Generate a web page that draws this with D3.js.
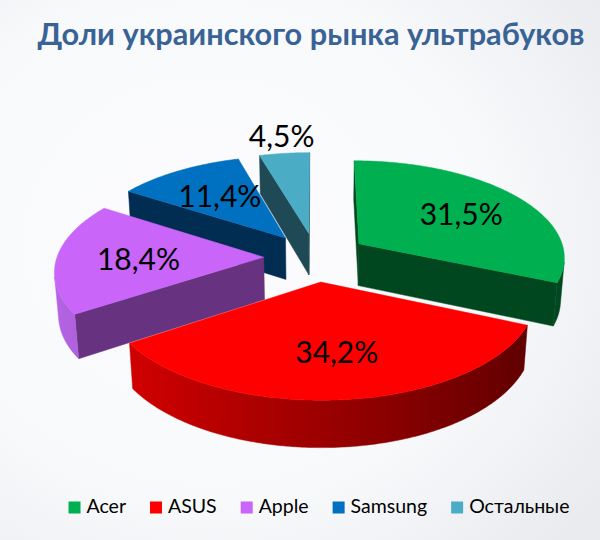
<!DOCTYPE html>
<html><head><meta charset="utf-8">
<script src="https://cdn.jsdelivr.net/npm/d3@7/dist/d3.min.js"></script>
<style>html,body{margin:0;padding:0;background:#fff;}svg{display:block;}</style>
</head><body>
<script>
// ---- data ----
const title = "Доли украинского рынка ультрабуков";
const categories = ["Acer", "ASUS", "Apple", "Samsung", "Остальные"];
const shares = [31.5, 34.2, 18.4, 11.4, 4.5];
const valueLabels = ["31,5%", "34,2%", "18,4%", "11,4%", "4,5%"];
const topColors = ["#00B050", "#FF0000", "#C965F8", "#0070C0", "#4BACC6"];
const radialColors = ["#00471F", "#8A0000", "#673380", "#022D52", "#1F4A55"];
const sideLight = ["#00582A", "#DC0000", "#B565E6", "#0A4F8A", "#3A8799"];
const sideDark = ["#00471F", "#5A0000", "#673380", "#022D52", "#1F4A55"];

// ---- layout ----
const W = 600, H = 540;
const cx = 316, cy = 257, D = 7.08, f = 1463, phi = 27.84 * Math.PI / 180;
const thick = 0.235, explode = 0.253;
const sp = Math.sin(phi), cp = Math.cos(phi);
const cam = [0, D * sp, D * cp];

function proj(p) {
  const [X, Y, Z] = p;
  const dz = Y * sp + Z * cp;
  const yv = Y * cp - Z * sp;
  const d = D - dz;
  return [cx + f * X / d, cy - f * yv / d];
}
function visible(n, p) {
  return n[0] * (cam[0] - p[0]) + n[1] * (cam[1] - p[1]) + n[2] * (cam[2] - p[2]) > 0;
}

const svg = d3.select("body").append("svg").attr("width", W).attr("height", H);
const defs = svg.append("defs");
const bg = defs.append("radialGradient").attr("id", "bg").attr("cx", "35%").attr("cy", "45%").attr("r", "80%");
bg.append("stop").attr("offset", "0%").attr("stop-color", "#FCFCFE");
bg.append("stop").attr("offset", "60%").attr("stop-color", "#F8F9FB");
bg.append("stop").attr("offset", "100%").attr("stop-color", "#E9EBEF");
svg.append("rect").attr("width", W).attr("height", H).attr("fill", "url(#bg)");

svg.append("text").attr("x", 311).attr("y", 45).attr("text-anchor", "middle")
  .attr("font-family", "Lato, 'Open Sans', sans-serif").attr("font-weight", "bold")
  .attr("font-size", 31).attr("fill", "#3A6395")
  .attr("textLength", 547).attr("lengthAdjust", "spacingAndGlyphs")
  .text(title);

const arcs = d3.pie().sort(null).value(d => d)(shares);
const slices = arcs.map((a, i) => {
  const mid = (a.startAngle + a.endAngle) / 2;
  return { i, a0: a.startAngle, a1: a.endAngle, mid,
    ox: explode * Math.sin(mid), oz: -explode * Math.cos(mid) };
});
function pt(s, ang, r, Y) { return [s.ox + r * Math.sin(ang), Y, s.oz - r * Math.cos(ang)]; }
const line = d3.line();
const shade = slices.map(s => d3.scaleLinear().domain([0, 1]).range([sideDark[s.i], sideLight[s.i]]).interpolate(d3.interpolateRgb));

const order = slices.slice().sort((a, b) => {
  const da = Math.hypot(a.ox - cam[0], cam[1], a.oz - cam[2]);
  const db = Math.hypot(b.ox - cam[0], cam[1], b.oz - cam[2]);
  return db - da;
});

const pieG = svg.append("g");
order.forEach(s => {
  const g = pieG.append("g");
  const Yb = -thick, Ym = -thick / 2;
  // radial faces
  const faces = [
    { ang: s.a0, n: [-Math.cos(s.a0), 0, -Math.sin(s.a0)] },
    { ang: s.a1, n: [Math.cos(s.a1), 0, Math.sin(s.a1)] }
  ];
  faces.forEach(fc => {
    const pm = pt(s, fc.ang, 0.5, Ym);
    if (!visible(fc.n, pm)) return;
    const poly = [pt(s, 0, 0, 0), pt(s, fc.ang, 1, 0), pt(s, fc.ang, 1, Yb), pt(s, 0, 0, Yb)].map(proj);
    g.append("path").attr("d", line(poly) + "Z").attr("fill", radialColors[s.i])
      .attr("stroke", radialColors[s.i]).attr("stroke-width", 0.5).attr("stroke-linejoin", "round");
  });
  // outer curved side: find visible angle range, draw as one path with gradient
  const nSeg = Math.max(2, Math.ceil((s.a1 - s.a0) / (Math.PI / 360)));
  const step = (s.a1 - s.a0) / nSeg;
  const vis = [];
  for (let k = 0; k <= nSeg; k++) {
    const m = s.a0 + k * step;
    const n = [Math.sin(m), 0, -Math.cos(m)];
    if (visible(n, pt(s, m, 1, Ym))) vis.push(m);
  }
  if (vis.length > 1) {
    const topPts = vis.map(m => proj(pt(s, m, 1, 0)));
    const botPts = vis.map(m => proj(pt(s, m, 1, Yb))).reverse();
    const xs = topPts.map(p => p[0]);
    const x1 = d3.min(xs), x2 = d3.max(xs);
    const gid = "side" + s.i;
    const grad = defs.append("linearGradient").attr("id", gid).attr("gradientUnits", "userSpaceOnUse")
      .attr("x1", x1).attr("x2", x2 > x1 ? x2 : x1 + 1).attr("y1", 0).attr("y2", 0);
    const stops = vis.map((m, k) => ({ o: x2 > x1 ? (topPts[k][0] - x1) / (x2 - x1) : 0, c: shade[s.i]((1 - Math.sin(m)) / 2) }))
      .sort((a, b) => a.o - b.o);
    stops.filter((d, k) => k % 6 === 0 || k === stops.length - 1).forEach(d =>
      grad.append("stop").attr("offset", d.o).attr("stop-color", d.c));
    g.append("path").attr("d", line(topPts.concat(botPts)) + "Z").attr("fill", `url(#${gid})`)
      .attr("stroke", `url(#${gid})`).attr("stroke-width", 0.5);
  }
  // top face
  const top = [pt(s, 0, 0, 0)];
  for (let k = 0; k <= nSeg; k++) top.push(pt(s, s.a0 + k * step, 1, 0));
  g.append("path").attr("d", line(top.map(proj)) + "Z").attr("fill", topColors[s.i])
    .attr("stroke", topColors[s.i]).attr("stroke-width", 0.5).attr("stroke-linejoin", "round");
});

// value labels
slices.forEach(s => {
  const outside = shares[s.i] < 6;
  const r = outside ? 1.27 : 0.62;
  const p = proj(pt(s, s.mid, r, 0));
  svg.append("text").attr("x", p[0] + 3).attr("y", p[1]).attr("text-anchor", "middle")
    .attr("dominant-baseline", "central")
    .attr("font-family", "Lato, 'Open Sans', sans-serif").attr("font-size", 30).attr("fill", "#000")
    .text(valueLabels[s.i]);
});

// legend
const leg = svg.append("g");
let x = 0;
categories.forEach((c, i) => {
  const it = leg.append("g").attr("transform", `translate(${x},0)`);
  it.append("rect").attr("x", 0).attr("y", -11.5).attr("width", 12).attr("height", 12).attr("fill", topColors[i]);
  const t = it.append("text").attr("x", 18).attr("y", 0)
    .attr("font-family", "Lato, 'Open Sans', sans-serif").attr("font-size", 19.5).attr("fill", "#000").text(c);
  x += 18 + t.node().getComputedTextLength() + 24;
});
const legW = x - 24;
leg.attr("transform", `translate(${319 - legW / 2},513)`);
</script>
</body></html>
